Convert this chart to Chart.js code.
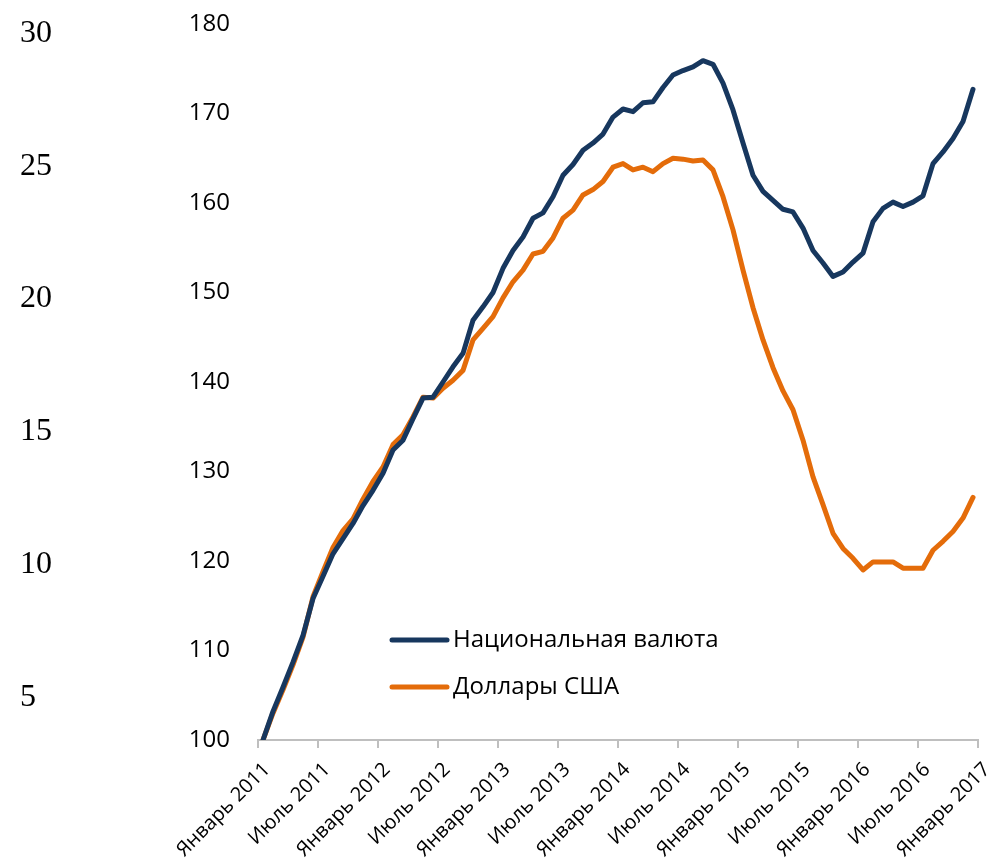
<!DOCTYPE html>
<html>
<head>
<meta charset="utf-8">
<title>Национальная валюта / Доллары США</title>
<script src="https://cdn.jsdelivr.net/npm/chart.js@4.4.0/dist/chart.umd.min.js"></script>
<style>
  html, body { margin: 0; padding: 0; background: #fff; }
  #wrap { width: 990px; height: 858px; position: relative; }
</style>
</head>
<body>
<div id="wrap"><canvas id="chart"></canvas></div>
<script>
// Месяцы: Январь 2011 ... Декабрь 2016
const monthNames = ["Январь", "Февраль", "Март", "Апрель", "Май", "Июнь",
  "Июль", "Август", "Сентябрь", "Октябрь", "Ноябрь", "Декабрь"];
const years = [2011, 2012, 2013, 2014, 2015, 2016];
const months = years.flatMap(y => monthNames.map(m => m + " " + y));

// Индекс, январь 2011 = 100
const nationalCurrency = [
  100, 103.2, 105.9, 108.7, 111.7, 115.8, 118.3, 120.8, 122.5, 124.2, 126.2, 127.9,
  129.8, 132.4, 133.5, 135.9, 138.2, 138.3, 140.0, 141.7, 143.2, 146.9, 148.4, 150.0,
  152.7, 154.7, 156.2, 158.3, 158.9, 160.7, 163.1, 164.3, 165.9, 166.7, 167.7, 169.6,
  170.5, 170.2, 171.2, 171.3, 172.9, 174.3, 174.8, 175.2, 175.9, 175.5, 173.4, 170.4,
  166.7, 163.1, 161.3, 160.3, 159.3, 159.0, 157.2, 154.7, 153.3, 151.8, 152.3, 153.4,
  154.4, 157.9, 159.4, 160.1, 159.6, 160.1, 160.8, 164.4, 165.7, 167.2, 169.1, 172.7
];
const usDollars = [
  100, 103.0, 105.6, 108.4, 111.5, 116.0, 118.8, 121.5, 123.4, 124.7, 126.9, 128.9,
  130.5, 133.0, 134.1, 136.1, 138.3, 138.2, 139.3, 140.2, 141.3, 144.7, 146.0, 147.3,
  149.4, 151.2, 152.5, 154.3, 154.6, 156.1, 158.3, 159.2, 160.9, 161.5, 162.4, 164.0,
  164.4, 163.7, 164.0, 163.5, 164.4, 165.0, 164.9, 164.7, 164.8, 163.7, 160.7, 157.0,
  152.5, 148.3, 144.7, 141.6, 139.0, 136.9, 133.5, 129.4, 126.3, 123.1, 121.4, 120.3,
  119.0, 119.9, 119.9, 119.9, 119.2, 119.2, 119.2, 121.2, 122.2, 123.3, 124.8, 127.1
];

const xTickLabels = [
  "Январь 2011", "Июль 2011", "Январь 2012", "Июль 2012", "Январь 2013", "Июль 2013",
  "Январь 2014", "Июль 2014", "Январь 2015", "Июль 2015", "Январь 2016", "Июль 2016",
  "Январь 2017"
];
const yTicks = [100, 110, 120, 130, 140, 150, 160, 170, 180];
const leftTicks = [5, 10, 15, 20, 25, 30];

const NAVY = "#17375E";
const ORANGE = "#E46C0A";
const AXIS_GRAY = "#BFBFBF";

// легенда внутри области графика
const insideLegend = {
  id: "insideLegend",
  afterDraw(chart) {
    const ctx = chart.ctx;
    const x0 = chart.chartArea.left + 134;
    const y0 = 640;
    chart.data.datasets.forEach((ds, i) => {
      const y = y0 + i * 47;
      ctx.save();
      ctx.strokeStyle = ds.borderColor;
      ctx.lineWidth = 5;
      ctx.lineCap = "round";
      ctx.beginPath();
      ctx.moveTo(x0, y);
      ctx.lineTo(x0 + 55, y);
      ctx.stroke();
      ctx.fillStyle = "#000";
      ctx.font = '24px "Open Sans"';
      ctx.textBaseline = "middle";
      ctx.fillText(ds.label, x0 + 61, y);
      ctx.restore();
    });
  }
};

// без лишних отступов от подписей крайних делений
function noVerticalPadding(axis) {
  axis.paddingTop = 0;
  axis.paddingBottom = 0;
}

new Chart(document.getElementById("chart"), {
  type: "line",
  data: {
    datasets: [
      {
        label: "Национальная валюта",
        data: months.map((m, i) => ({ x: i, y: nationalCurrency[i] })),
        borderColor: NAVY,
        backgroundColor: NAVY,
        borderWidth: 5,
        borderJoinStyle: "round",
        borderCapStyle: "round",
        pointRadius: 0,
        tension: 0
      },
      {
        label: "Доллары США",
        data: months.map((m, i) => ({ x: i, y: usDollars[i] })),
        borderColor: ORANGE,
        backgroundColor: ORANGE,
        borderWidth: 5,
        borderJoinStyle: "round",
        borderCapStyle: "round",
        pointRadius: 0,
        tension: 0
      }
    ]
  },
  options: {
    responsive: true,
    maintainAspectRatio: false,
    animation: false,
    layout: { padding: { left: 20, right: 12, top: 24, bottom: 0 } },
    plugins: {
      legend: { display: false },
      tooltip: { enabled: false }
    },
    scales: {
      x: {
        type: "linear",
        min: -0.5,
        max: months.length - 0.5,
        afterBuildTicks: (axis) => {
          axis.ticks = xTickLabels.map((_, i) => ({ value: i * 6 - 0.5 }));
        },
        afterFit: (axis) => {
          axis.height = 118;
          axis.paddingLeft = 0;
          axis.paddingRight = 0;
        },
        grid: {
          drawOnChartArea: false,
          drawTicks: true,
          tickLength: 8,
          color: AXIS_GRAY,
          lineWidth: 2
        },
        border: { display: true, color: AXIS_GRAY, width: 2 },
        ticks: {
          autoSkip: false,
          minRotation: 45,
          maxRotation: 45,
          padding: 10,
          labelOffset: 9,
          color: "#000",
          font: { family: "Open Sans", size: 20 },
          callback: (value, index) => xTickLabels[index]
        }
      },
      y: {
        min: 100,
        max: 180,
        weight: 0,
        afterBuildTicks: (axis) => {
          axis.ticks = yTicks.map(v => ({ value: v }));
        },
        afterFit: (axis) => {
          axis.width = 158;
          noVerticalPadding(axis);
        },
        grid: { display: false, drawTicks: false },
        border: { display: false },
        ticks: {
          padding: 28,
          color: "#000",
          font: { family: "Open Sans", size: 24 }
        }
      },
      y2: {
        position: "left",
        min: 3.4,
        max: 30.35,
        weight: 10,
        afterBuildTicks: (axis) => {
          axis.ticks = leftTicks.map(v => ({ value: v }));
        },
        afterFit: (axis) => {
          axis.width = 80;
          noVerticalPadding(axis);
        },
        grid: { display: false, drawTicks: false },
        border: { display: false },
        ticks: {
          crossAlign: "far",
          padding: 0,
          color: "#000",
          font: { family: "Liberation Serif", size: 32 }
        }
      }
    }
  },
  plugins: [insideLegend]
});
</script>
</body>
</html>
